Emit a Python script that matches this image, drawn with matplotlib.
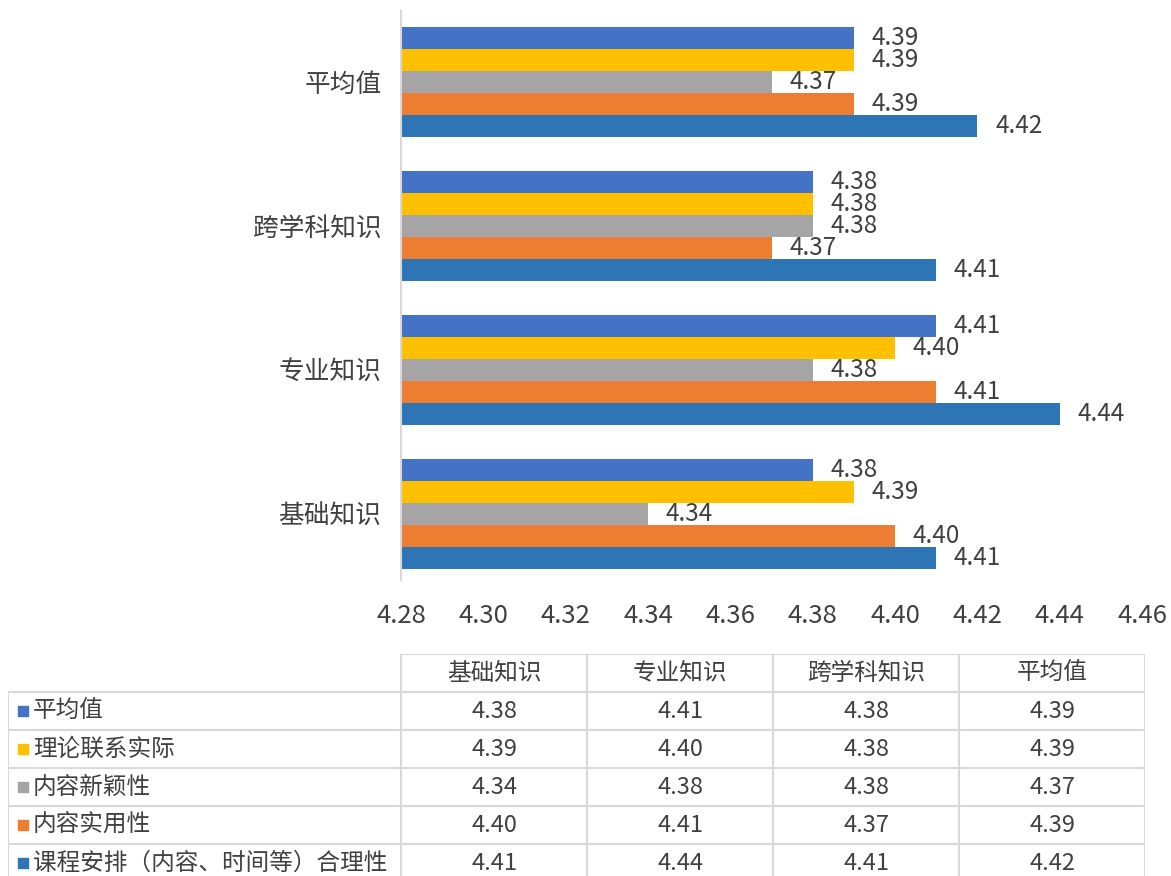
import matplotlib.pyplot as plt
import matplotlib
import numpy as np

# 字体
matplotlib.rcParams['font.family'] = ['Noto Sans CJK SC', 'DejaVu Sans']

categories = ['基础知识', '专业知识', '跨学科知识', '平均值']
series_names = ['平均值', '理论联系实际', '内容新颖性', '内容实用性', '课程安排（内容、时间等）合理性']
colors = ['#4472C4', '#FFC000', '#A5A5A5', '#ED7D31', '#2E75B6']

avg = [4.38, 4.41, 4.38, 4.39]
theory = [4.39, 4.40, 4.38, 4.39]
novelty = [4.34, 4.38, 4.38, 4.37]
practical = [4.40, 4.41, 4.37, 4.39]
schedule = [4.41, 4.44, 4.41, 4.42]
values = [avg, theory, novelty, practical, schedule]

xticks = [4.28, 4.30, 4.32, 4.34, 4.36, 4.38, 4.40, 4.42, 4.44, 4.46]

text_color = '#404040'
line_color = '#D9D9D9'

fig = plt.figure(figsize=(11.71, 8.76), dpi=100)

# 条形图
ax = fig.add_axes([401 / 1171, 1 - 586 / 876, 741 / 1171, 576 / 876])
y = np.arange(len(categories))
h = 0.153
for i, (vals, c) in enumerate(zip(values, colors)):
    pos = y + (2 - i) * h
    ax.barh(pos, np.array(vals) - xticks[0], left=xticks[0], height=h, color=c)
    for p, v in zip(pos, vals):
        ax.text(v + 0.0043, p, '{:.2f}'.format(v), va='center', ha='left',
                fontsize=17.5, color=text_color)

ax.set_xlim(xticks[0], xticks[-1])
ax.set_ylim(-0.5, 3.5)
ax.set_xticks(xticks)
ax.set_xticklabels(['{:.2f}'.format(t) for t in xticks])
ax.set_yticks(y)
ax.set_yticklabels(categories)
ax.tick_params(axis='both', length=0, labelsize=18.5, colors=text_color)
ax.tick_params(axis='x', pad=12)
ax.tick_params(axis='y', pad=14)
for s in ['top', 'right', 'bottom']:
    ax.spines[s].set_visible(False)
ax.spines['left'].set_color(line_color)
ax.spines['left'].set_linewidth(1.5)
ax.spines['left'].set_bounds(-0.46, 3.49)

# 数据表
row_w = (401 - 8) / 186
tb = fig.add_axes([8 / 1171, 1 - 882 / 876, 1137 / 1171, 228 / 876])
tb.set_xlim(-row_w, len(categories))
tb.set_ylim(len(series_names) + 1, 0)
tb.axis('off')
kw = dict(color=line_color, lw=1.5)

ncol = len(categories)
nrow = len(series_names)
# 表头
tb.plot([0, ncol], [0, 0], **kw)
for j in range(ncol + 1):
    tb.plot([j, j], [0, nrow + 1], **kw)
for j, cat in enumerate(categories):
    tb.text(j + 0.5, 0.5, cat, ha='center', va='center', fontsize=17, color=text_color)
# 各行
for r in range(nrow + 1):
    tb.plot([-row_w, ncol], [r + 1, r + 1], **kw)
tb.plot([-row_w, -row_w], [1, nrow + 1], **kw)
for i, (name, vals, c) in enumerate(zip(series_names, values, colors)):
    yy = i + 1.5
    tb.scatter([-row_w + 0.08], [yy], marker='s', s=55, color=c)
    tb.text(-row_w + 0.135, yy, name, ha='left', va='center', fontsize=17, color=text_color)
    for j, v in enumerate(vals):
        tb.text(j + 0.5, yy, '{:.2f}'.format(v), ha='center', va='center',
                fontsize=17, color=text_color)

fig.savefig('out.png', dpi=100)
